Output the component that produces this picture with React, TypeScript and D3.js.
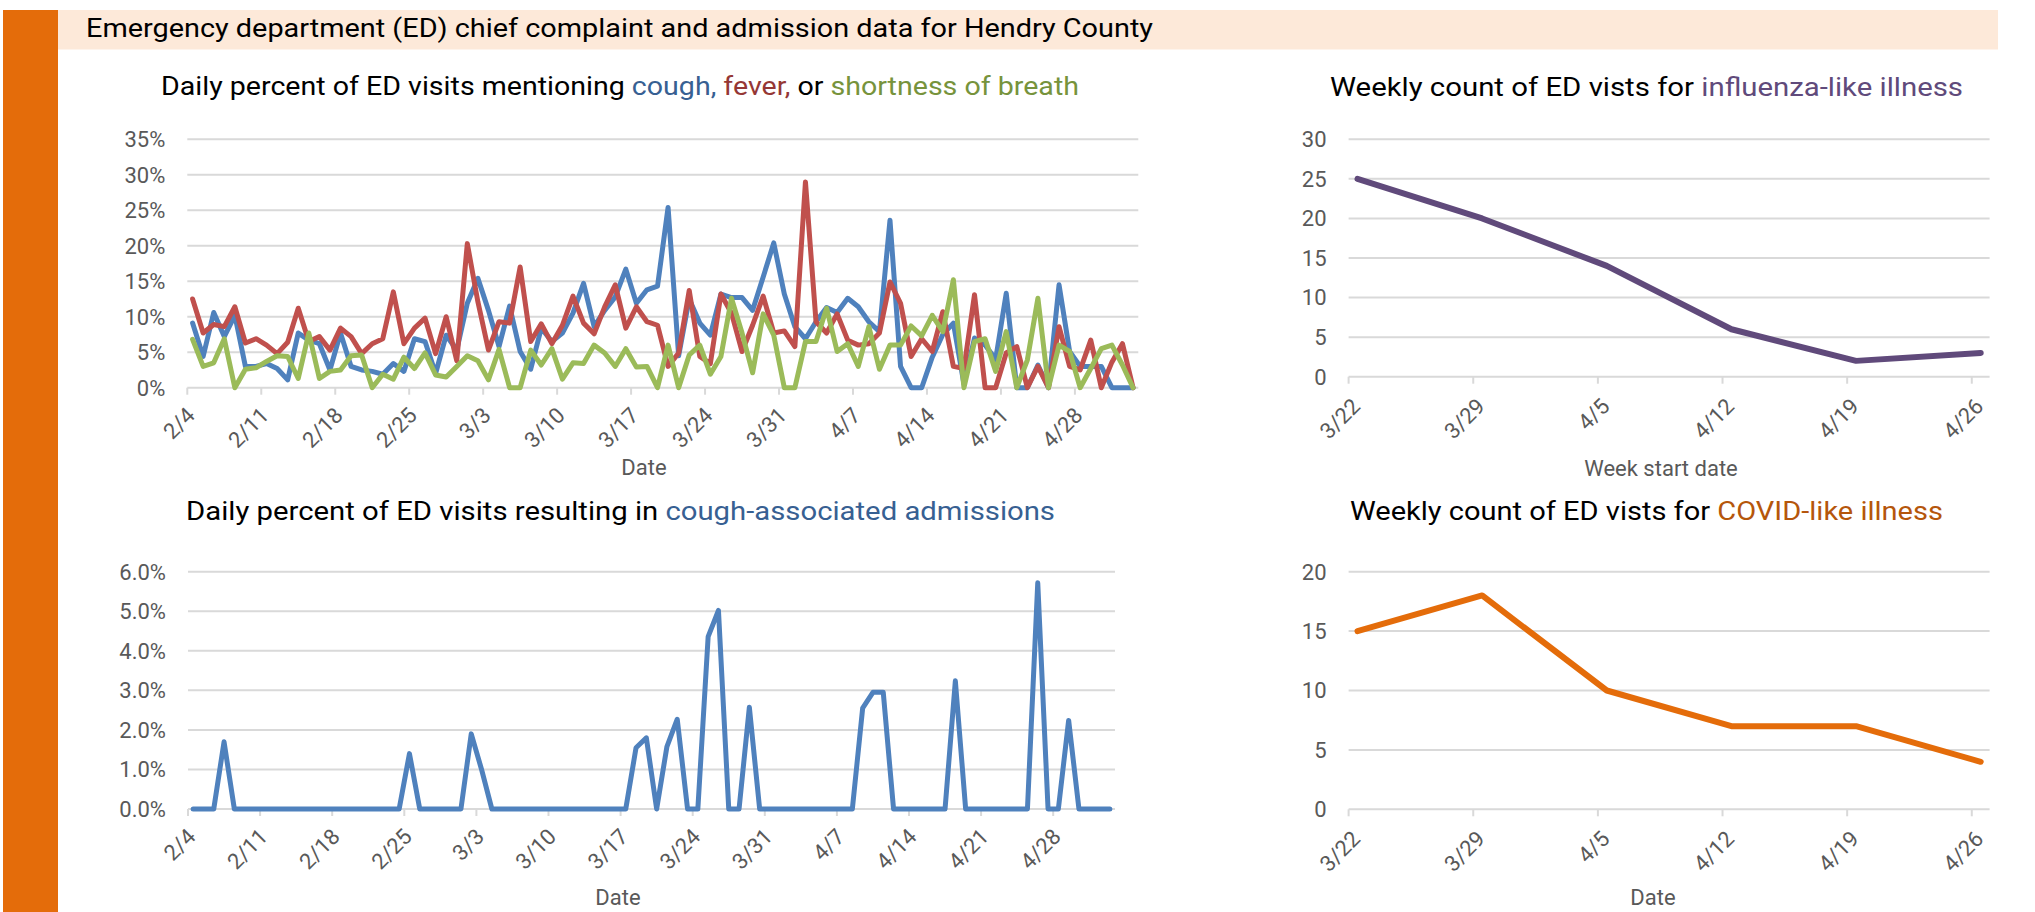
import React from 'react';
import * as d3 from 'd3';

// daily categories run 2/4 .. 5/3 (90 days)
const dailyStart = '2/4';
const dailyEnd = '5/4';
const dailyTickLabels = ['2/4', '2/11', '2/18', '2/25', '3/3', '3/10', '3/17', '3/24', '3/31', '4/7', '4/14', '4/21', '4/28'];

// percent of ED visits, one value per day
const cough = [
  9.1, 4.4, 10.6, 7.2, 10.2, 3.0, 3.0, 3.4, 2.7, 1.1,
  7.7, 6.7, 6.2, 2.5, 7.7, 3.0, 2.5, 2.3, 1.9, 3.4,
  2.3, 6.9, 6.5, 2.0, 7.4, 5.3, 11.9, 15.4, 10.9, 5.8,
  11.5, 5.1, 2.6, 8.4, 6.5, 7.7, 10.5, 14.7, 8.6, 10.9,
  12.8, 16.7, 11.9, 13.8, 14.3, 25.4, 4.5, 12.5, 9.1, 7.4,
  13.2, 12.7, 12.7, 10.9, 15.6, 20.4, 13.2, 8.6, 6.9, 9.3,
  11.3, 10.6, 12.6, 11.4, 9.3, 7.9, 23.6, 3.0, 0, 0,
  4.3, 7.5, 9.1, 0.5, 7.0, 6.0, 4.0, 13.3, 0, 0,
  3.2, 0, 14.5, 5.1, 3.0, 3.0, 3.0, 0, 0, 0,
];
const fever = [
  12.5, 7.7, 8.9, 8.6, 11.4, 6.3, 6.9, 6.0, 4.8, 6.4,
  11.2, 6.5, 7.2, 5.3, 8.4, 7.2, 4.8, 6.2, 6.9, 13.5,
  6.2, 8.4, 9.8, 4.8, 10.0, 3.8, 20.3, 12.1, 5.3, 9.3,
  9.1, 17.0, 6.5, 9.0, 6.2, 8.8, 12.9, 9.1, 7.6, 11.4,
  14.5, 8.4, 11.4, 9.3, 8.8, 3.0, 4.9, 13.7, 4.4, 3.4,
  13.2, 10.5, 5.1, 8.8, 12.9, 7.7, 8.0, 5.8, 29.0, 9.3,
  7.7, 10.4, 6.7, 6.0, 6.2, 7.7, 14.9, 11.9, 4.4, 6.9,
  5.1, 10.7, 3.0, 2.7, 13.1, 0, 0, 4.9, 5.8, 0,
  3.0, 0, 8.6, 3.0, 2.5, 6.7, 0, 3.6, 6.2, 0,
];
const breath = [
  6.8, 3.0, 3.5, 6.9, 0, 2.6, 2.8, 3.7, 4.5, 4.4,
  1.3, 7.7, 1.3, 2.3, 2.5, 4.5, 4.6, 0, 1.9, 1.2,
  4.3, 2.7, 4.9, 1.8, 1.5, 3.0, 4.5, 3.8, 1.1, 5.4,
  0, 0, 5.3, 3.2, 5.5, 1.2, 3.5, 3.4, 6.0, 4.9,
  3.0, 5.5, 2.9, 3.0, 0, 6.0, 0, 4.6, 6.0, 1.9,
  4.4, 12.6, 7.7, 2.1, 10.4, 7.4, 0, 0, 6.5, 6.5,
  11.2, 5.1, 6.2, 3.0, 8.6, 2.6, 6.0, 6.0, 8.7, 7.3,
  10.2, 7.9, 15.2, 0, 6.5, 6.9, 2.3, 7.9, 0, 3.9,
  12.6, 0, 6.0, 5.1, 0, 2.7, 5.5, 6.0, 3.2, 0,
];
const admissions = [
  0, 0, 0, 1.7, 0, 0, 0, 0, 0, 0,
  0, 0, 0, 0, 0, 0, 0, 0, 0, 0,
  0, 1.4, 0, 0, 0, 0, 0, 1.9, 1.0, 0,
  0, 0, 0, 0, 0, 0, 0, 0, 0, 0,
  0, 0, 0, 1.55, 1.8, 0, 1.58, 2.27, 0, 0,
  4.36, 5.02, 0, 0, 2.57, 0, 0, 0, 0, 0,
  0, 0, 0, 0, 0, 2.55, 2.95, 2.95, 0, 0,
  0, 0, 0, 0, 3.24, 0, 0, 0, 0, 0,
  0, 0, 5.72, 0, 0, 2.24, 0, 0, 0, 0,
];

const weekLabels = ['3/22', '3/29', '4/5', '4/12', '4/19', '4/26'];
const weekEnd = '4/27';
const iliCounts = [25, 20, 14, 6, 2, 3];
const cliCounts = [15, 18, 10, 7, 7, 4];

const pctTicks = [0, 5, 10, 15, 20, 25, 30, 35];
const admTicks = [0, 1, 2, 3, 4, 5, 6];
const iliTicks = [0, 5, 10, 15, 20, 25, 30];
const cliTicks = [0, 5, 10, 15, 20];

const FONT = "Roboto, 'Liberation Sans', Arial, sans-serif";
const GRID = '#d9d9d9';
const LABEL = '#595959';

const parseMD = (s: string) => {
  const [m, d] = s.split('/').map(Number);
  return new Date(Date.UTC(2020, m - 1, d));
};

interface Series {
  dates: Date[];
  values: number[];
  color: string;
  width: number;
}

interface PanelProps {
  left: number;
  right: number;
  top: number;
  bottom: number;
  domain: [Date, Date];
  yMax: number;
  yTicks: number[];
  yFmt: (v: number) => string;
  tickLabels: string[];
  series: Series[];
  xTitle: string;
  xTitleX: number;
  xTitleY: number;
  labelDx: number;
  labelDy: number;
}

const Panel: React.FC<PanelProps> = ({
  left, right, top, bottom, domain, yMax, yTicks, yFmt, tickLabels,
  series, xTitle, xTitleX, xTitleY, labelDx, labelDy,
}) => {
  const x = d3.scaleUtc().domain(domain).range([left, right]);
  const y = d3.scaleLinear().domain([0, yMax]).range([bottom, top]);
  const line = d3
    .line<[Date, number]>()
    .x(d => x(d3.utcHour.offset(d[0], 12)))
    .y(d => y(d[1]));

  return (
    <g fontFamily={FONT}>
      {yTicks.map(t => (
        <g key={t}>
          <line x1={left} x2={right} y1={y(t)} y2={y(t)} stroke={GRID} strokeWidth={2} />
          <text x={left - 22} y={y(t)} dy="0.36em" textAnchor="end" fontSize={22} fill={LABEL}>
            {yFmt(t)}
          </text>
        </g>
      ))}
      {tickLabels.map(s => {
        const tx = x(parseMD(s));
        return (
          <g key={s}>
            <line x1={tx} x2={tx} y1={bottom} y2={bottom + 7} stroke={GRID} strokeWidth={2} />
            <text
              transform={`translate(${tx + labelDx},${bottom + labelDy}) rotate(-45)`}
              textAnchor="end"
              fontSize={22}
              fill={LABEL}
            >
              {s}
            </text>
          </g>
        );
      })}
      {series.map((s, i) => (
        <path
          key={i}
          d={line(s.dates.map((d, j) => [d, s.values[j]] as [Date, number])) || ''}
          fill="none"
          stroke={s.color}
          strokeWidth={s.width}
          strokeLinejoin="round"
          strokeLinecap="round"
        />
      ))}
      <text x={xTitleX} y={xTitleY} dy="0.35em" textAnchor="middle" fontSize={22} fill={LABEL}>
        {xTitle}
      </text>
    </g>
  );
};

const App: React.FC = () => {
  const days = d3.utcDay.range(parseMD(dailyStart), parseMD(dailyEnd));
  const weeks = weekLabels.map(parseMD);
  const dailyDomain: [Date, Date] = [parseMD(dailyStart), parseMD(dailyEnd)];
  const weekDomain: [Date, Date] = [weeks[0], parseMD(weekEnd)];

  return (
    <svg
      width={2035}
      height={912}
      style={{ position: 'absolute', left: 0, top: 0, background: '#fff' }}
    >
      <rect x={3} y={10} width={55} height={902} fill="#e46c0a" />
      <rect x={58} y={10} width={1940} height={39.5} fill="#fde9d9" />
      <text x={86} y={37} fontFamily={FONT} fontSize={25} fill="#000" textLength={1067} lengthAdjust="spacingAndGlyphs">
        Emergency department (ED) chief complaint and admission data for Hendry County
      </text>

      <text x={161} y={95} fontFamily={FONT} fontSize={26} fill="#000" textLength={918} lengthAdjust="spacingAndGlyphs">
        Daily percent of ED visits mentioning <tspan fill="#376092">cough,</tspan>{' '}
        <tspan fill="#953735">fever,</tspan> or <tspan fill="#77933c">shortness of breath</tspan>
      </text>
      <Panel
        left={187.3}
        right={1138.3}
        top={139.3}
        bottom={387.7}
        domain={dailyDomain}
        yMax={35}
        yTicks={pctTicks}
        yFmt={v => `${v}%`}
        tickLabels={dailyTickLabels}
        series={[
          { dates: days, values: cough, color: '#4f81bd', width: 5 },
          { dates: days, values: fever, color: '#c0504d', width: 5 },
          { dates: days, values: breath, color: '#9bbb59', width: 5 },
        ]}
        xTitle="Date"
        xTitleX={644}
        xTitleY={467}
        labelDx={9}
        labelDy={29}
      />

      <text x={186} y={520} fontFamily={FONT} fontSize={26} fill="#000" textLength={869} lengthAdjust="spacingAndGlyphs">
        Daily percent of ED visits resulting in <tspan fill="#376092">cough-associated admissions</tspan>
      </text>
      <Panel
        left={188}
        right={1115}
        top={571.7}
        bottom={809}
        domain={dailyDomain}
        yMax={6}
        yTicks={admTicks}
        yFmt={v => `${v.toFixed(1)}%`}
        tickLabels={dailyTickLabels}
        series={[{ dates: days, values: admissions, color: '#4f81bd', width: 5 }]}
        xTitle="Date"
        xTitleX={618}
        xTitleY={897}
        labelDx={9}
        labelDy={29}
      />

      <text x={1330} y={96} fontFamily={FONT} fontSize={26} fill="#000" textLength={633} lengthAdjust="spacingAndGlyphs">
        Weekly count of ED vists for <tspan fill="#604a7b">influenza-like illness</tspan>
      </text>
      <Panel
        left={1348.6}
        right={1989.6}
        top={139.3}
        bottom={376.7}
        domain={weekDomain}
        yMax={30}
        yTicks={iliTicks}
        yFmt={v => `${v}`}
        tickLabels={weekLabels}
        series={[{ dates: weeks, values: iliCounts, color: '#604a7b', width: 6 }]}
        xTitle="Week start date"
        xTitleX={1661}
        xTitleY={468}
        labelDx={13}
        labelDy={31}
      />

      <text x={1350} y={520} fontFamily={FONT} fontSize={26} fill="#000" textLength={593} lengthAdjust="spacingAndGlyphs">
        Weekly count of ED vists for <tspan fill="#b5560b">COVID-like illness</tspan>
      </text>
      <Panel
        left={1348.6}
        right={1989.6}
        top={571.7}
        bottom={809.3}
        domain={weekDomain}
        yMax={20}
        yTicks={cliTicks}
        yFmt={v => `${v}`}
        tickLabels={weekLabels}
        series={[{ dates: weeks, values: cliCounts, color: '#e46c0a', width: 6 }]}
        xTitle="Date"
        xTitleX={1653}
        xTitleY={897}
        labelDx={13}
        labelDy={31}
      />
    </svg>
  );
};

export default App;
